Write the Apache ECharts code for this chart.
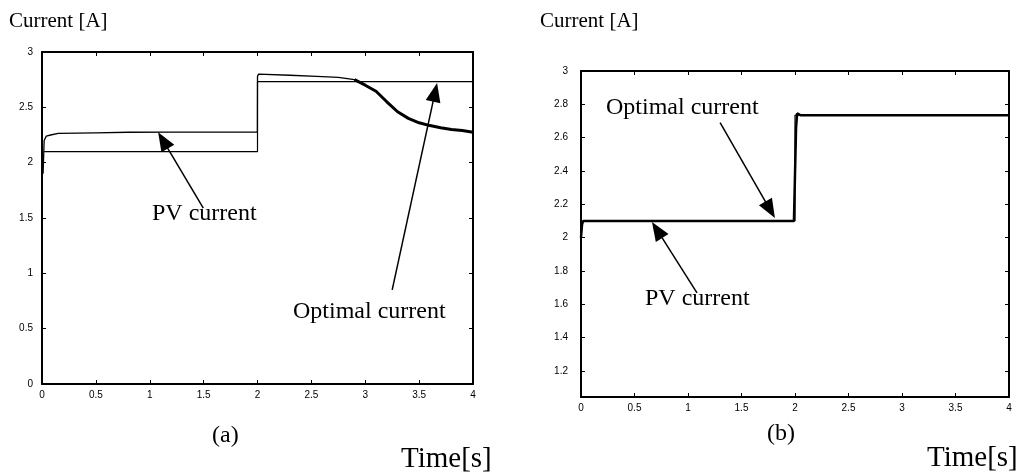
<!DOCTYPE html>
<html><head><meta charset="utf-8">
<script src="https://cdn.jsdelivr.net/npm/echarts@6/dist/echarts.min.js"></script>
<style>html,body{margin:0;padding:0;background:#fff}#c{width:1029px;height:474px}</style>
</head><body><div id="c"></div>
<script>
// ---- Chart (a) data ----
const aPvTime    = [0, 0.005, 0.01, 0.02, 0.04, 0.08, 0.15, 0.5, 0.8, 1.2, 1.999, 2.0, 2.01, 2.3, 2.55, 2.75, 2.9, 2.95, 3.0, 3.1, 3.2, 3.3, 3.4, 3.5, 3.6, 3.7, 3.8, 3.9, 4.0];
const aPvCurrent = [1.75, 2.05, 1.9, 2.2, 2.24, 2.25, 2.265, 2.27, 2.275, 2.276, 2.276, 2.78, 2.80, 2.79, 2.78, 2.77, 2.75, 2.725, 2.70, 2.645, 2.55, 2.46, 2.40, 2.36, 2.335, 2.315, 2.30, 2.29, 2.275];
const aOptTime    = [0.02, 2.0, 2.0, 4.0];
const aOptCurrent = [2.10, 2.10, 2.733, 2.733];
// ---- Chart (b) data ----
const bPvTime    = [0, 0.01, 0.02, 1.99, 2.0, 2.01, 2.02, 2.05, 4.0];
const bPvCurrent = [2.0, 2.08, 2.10, 2.10, 2.10, 2.66, 2.745, 2.735, 2.735];
const bOptTime    = [0.02, 2.0, 2.0, 4.0];
const bOptCurrent = [2.10, 2.10, 2.735, 2.735];
// ---- ticks ----
const xTicks  = [0, 0.5, 1, 1.5, 2, 2.5, 3, 3.5, 4];
const aYTicks = [0, 0.5, 1, 1.5, 2, 2.5, 3];
const bYTicks = [1.2, 1.4, 1.6, 1.8, 2, 2.2, 2.4, 2.6, 2.8, 3];
// ---- annotation arrows (data coords: [start],[arrowhead centre]) ----
const aPvArrow  = [[1.497, 1.59], [1.123, 2.202]];
const aOptArrow = [[3.25, 0.85], [3.648, 2.635]];
const bOptArrow = [[1.30, 2.69], [1.768, 2.167]];
const bPvArrow  = [[1.084, 1.668], [0.711, 2.046]];

const zip = (xs, ys) => xs.map((x, i) => [x, ys[i]]);
const aTailIdx = aPvTime.findIndex(t => t >= 2.9);

const LINE = {color: '#000', width: 2};
function xAx(grid, pos, showLabel) {
  return {gridIndex: grid, type: 'value', min: 0, max: 4, interval: 0.5, position: pos,
    axisLine: {show: true, onZero: false, lineStyle: LINE},
    axisTick: {show: true, inside: true, length: 4, lineStyle: {color: '#000', width: 1}},
    axisLabel: {show: showLabel, fontSize: 10, color: '#000', margin: 6, fontFamily: 'Liberation Sans'},
    splitLine: {show: false}};
}
function yAx(grid, pos, showLabel, isB) {
  const o = {gridIndex: grid, type: 'value', position: pos,
    axisLine: {show: true, onZero: false, lineStyle: LINE},
    axisTick: {show: true, inside: true, length: 4, lineStyle: {color: '#000', width: 1}},
    axisLabel: {show: showLabel, fontSize: 10, color: '#000', margin: isB ? 13 : 9, fontFamily: 'Liberation Sans'},
    splitLine: {show: false}};
  if (isB) {
    o.min = 1.043; o.max = 3;
    o.axisLabel.customValues = bYTicks;
    o.axisTick.customValues = bYTicks;
  } else {
    o.min = 0; o.max = 3; o.interval = 0.5;
  }
  return o;
}
function arrow(a) {
  return {silent: true, symbol: ['none', 'triangle'], symbolSize: [15, 19], label: {show: false},
    emphasis: {disabled: true},
    lineStyle: {color: '#000', width: 1.5, type: 'solid'},
    itemStyle: {color: '#000'},
    data: [[{coord: a[0], symbol: 'none'}, {coord: a[1], symbol: 'triangle', symbolSize: [15, 19]}]]};
}
const serif = 'Liberation Serif';
function txt(text, x, y, size) {
  return {type: 'text', x: x, y: y, style: {text: text, fill: '#000', font: size + 'px "' + serif + '"', textVerticalAlign: 'middle'}};
}

const chart = echarts.init(document.getElementById('c'), null, {renderer: 'canvas'});
chart.setOption({
  animation: false,
  backgroundColor: '#fff',
  grid: [
    {left: 42, right: 556, top: 52, bottom: 90},
    {left: 581, right: 20, top: 71, bottom: 77}
  ],
  xAxis: [xAx(0, 'bottom', true), xAx(0, 'top', false), xAx(1, 'bottom', true), xAx(1, 'top', false)],
  yAxis: [yAx(0, 'left', true, false), yAx(0, 'right', false, false), yAx(1, 'left', true, true), yAx(1, 'right', false, true)],
  series: [
    {name: 'PV current (a)', type: 'line', xAxisIndex: 0, yAxisIndex: 0, showSymbol: false, symbol: 'none',
      lineStyle: {color: '#000', width: 1.3}, data: zip(aPvTime, aPvCurrent), markLine: arrow(aPvArrow)},
    {name: 'PV current (a) transient', type: 'line', xAxisIndex: 0, yAxisIndex: 0, showSymbol: false, symbol: 'none',
      lineStyle: {color: '#000', width: 3}, data: zip(aPvTime, aPvCurrent).slice(aTailIdx)},
    {name: 'Optimal current (a)', type: 'line', xAxisIndex: 0, yAxisIndex: 0, showSymbol: false, symbol: 'none',
      lineStyle: {color: '#000', width: 1.2}, data: zip(aOptTime, aOptCurrent), markLine: arrow(aOptArrow)},
    {name: 'PV current (b)', type: 'line', xAxisIndex: 2, yAxisIndex: 2, showSymbol: false, symbol: 'none',
      lineStyle: {color: '#000', width: 2.5}, data: zip(bPvTime, bPvCurrent), markLine: arrow(bPvArrow)},
    {name: 'Optimal current (b)', type: 'line', xAxisIndex: 2, yAxisIndex: 2, showSymbol: false, symbol: 'none',
      lineStyle: {color: '#000', width: 1.2}, data: zip(bOptTime, bOptCurrent), markLine: arrow(bOptArrow)}
  ],
  graphic: [
    txt('Current [A]', 9, 21, 21),
    txt('Current [A]', 540, 21, 21),
    txt('PV current', 152, 214, 24),
    txt('Optimal current', 293, 312, 24),
    txt('Optimal current', 606, 108, 24),
    txt('PV current', 645, 299, 24),
    txt('(a)', 212, 436, 24),
    txt('Time[s]', 401, 459, 29),
    txt('(b)', 767, 434, 24),
    txt('Time[s]', 927, 458, 29)
  ]
});
</script></body></html>
